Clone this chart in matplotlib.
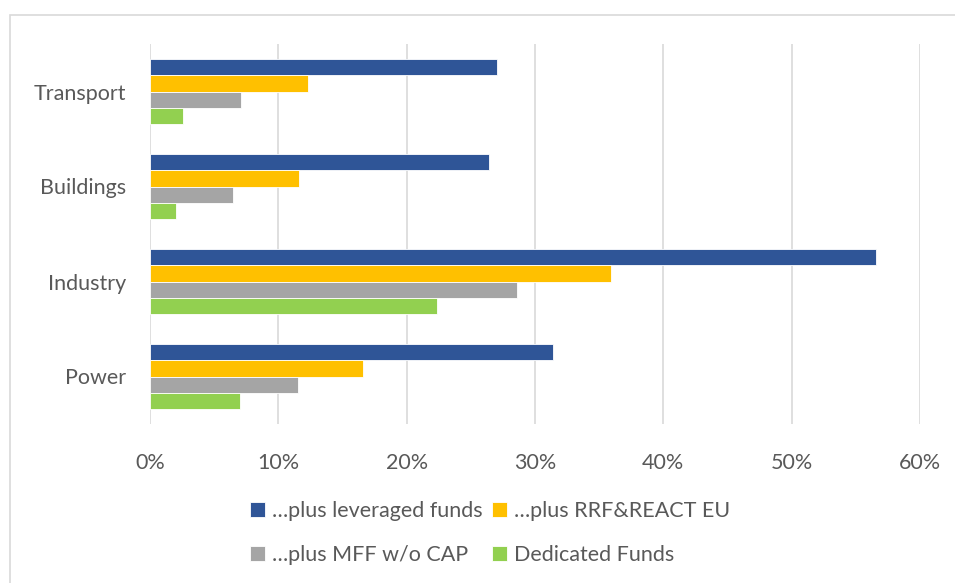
import matplotlib
matplotlib.use("Agg")
import matplotlib.pyplot as plt
import matplotlib.patches as patches
import numpy as np

plt.rcParams['font.family'] = ['Lato', 'DejaVu Sans']

categories = ['Power', 'Industry', 'Buildings', 'Transport']
leveraged = [31.4, 56.6, 26.4, 27.0]
rrf_react = [16.6, 35.9, 11.6, 12.3]
mff_wo_cap = [11.5, 28.6, 6.5, 7.1]
dedicated = [7.0, 22.4, 2.0, 2.6]

series = [
    ('…plus leveraged funds', leveraged, '#2F5597'),
    ('…plus RRF&REACT EU', rrf_react, '#FFC000'),
    ('…plus MFF w/o CAP', mff_wo_cap, '#A5A5A5'),
    ('Dedicated Funds', dedicated, '#92D050'),
]
xticks = [0, 10, 20, 30, 40, 50, 60]
text_col = '#595959'
fs = 15.5

fig = plt.figure(figsize=(9.55, 5.83), dpi=100)
# chart frame (only top/left edges visible in the crop)
frame = patches.Rectangle((10 / 955, -0.1), 1.1, (583 - 15) / 583 + 0.1,
                          transform=fig.transFigure, fill=False,
                          edgecolor='#D9D9D9', linewidth=1.2)
fig.patches.append(frame)

ax = fig.add_axes([150 / 955, (583 - 424) / 583, 770 / 955, 380 / 583])

y = np.arange(len(categories))
h = 0.171
offsets = [1.5 * h, 0.5 * h, -0.5 * h, -1.5 * h]
handles = []
for (label, vals, col), off in zip(series, offsets):
    b = ax.barh(y + off, vals, height=h, color=col, edgecolor='white',
                linewidth=0.6, label=label, zorder=3)
    handles.append(b)

ax.set_xlim(0, 60)
ax.set_ylim(-0.5, 3.5)
ax.set_xticks(xticks)
ax.set_xticklabels([f'{t}%' for t in xticks])
ax.set_yticks(y)
ax.set_yticklabels(categories)
ax.tick_params(length=0, labelsize=fs, colors=text_col)
ax.tick_params(axis='x', pad=21)
ax.tick_params(axis='y', pad=17)
ax.grid(axis='x', color='#D9D9D9', linewidth=1.2, zorder=0)
for s in ax.spines.values():
    s.set_visible(False)

order = [handles[0], handles[2], handles[1], handles[3]]
leg = fig.legend(order, [o.get_label() for o in order], ncol=2,
                 loc='center', bbox_to_anchor=(490 / 955, 1 - 533 / 583),
                 frameon=False, fontsize=fs, handlelength=0.7,
                 handleheight=0.7, handletextpad=0.35, columnspacing=0.4,
                 labelspacing=1.15)
for t in leg.get_texts():
    t.set_color(text_col)

fig.savefig('out.png', dpi=100)
